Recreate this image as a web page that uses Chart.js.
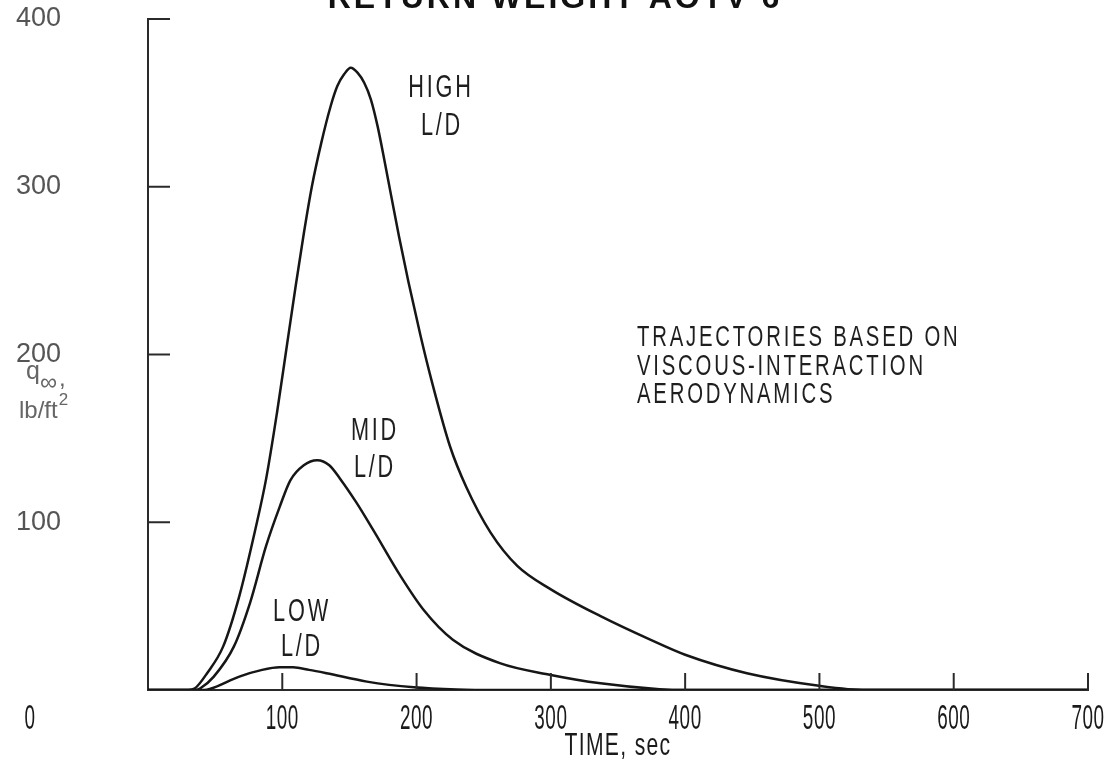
<!DOCTYPE html>
<html>
<head>
<meta charset="utf-8">
<script src="https://cdn.jsdelivr.net/npm/chart.js@4.4.1/dist/chart.umd.min.js"></script>
<style>
  html, body { margin: 0; padding: 0; background: #fff; }
</style>
</head>
<body>
<canvas id="myChart" width="1119" height="767"></canvas>
<script>
// values (time in sec, q in lb/ft2)
var highT = [0, 30, 35, 44, 56, 68, 80, 88, 96, 103, 110, 116, 122, 129, 136, 141, 146, 151, 156, 161, 166, 171, 176, 181, 187, 194, 203, 211, 225, 237, 255, 275, 300, 337, 374, 400, 446, 501, 535, 700];
var highQ = [0, 0, 1, 10, 26, 56, 96, 126, 165, 203, 241, 272, 300, 326, 348, 360, 367, 371, 368, 362, 352, 336, 316, 295, 270, 243, 211, 185, 145, 121, 94, 74, 60, 44, 30, 21, 10, 2.4, 0, 0];

var midT = [0, 36, 39, 49, 64, 76, 88, 98, 106, 116, 126, 135, 143, 155, 168, 188, 205, 227, 262, 300, 337, 381, 400, 700];
var midQ = [0, 0, 1, 8, 26, 52, 86, 109, 125, 134, 137, 134, 126, 112, 95, 68, 48, 30, 16, 9, 4, 0.5, 0, 0];

var lowT = [0, 42, 46, 68, 85, 98, 108, 120, 133, 163, 198, 230, 260, 700];
var lowQ = [0, 0, 0.6, 8, 12, 13.5, 13.5, 12, 10, 5, 1.6, 0.3, 0, 0];

var timeTicks = [0, 100, 200, 300, 400, 500, 600, 700];
var qTicks = [100, 200, 300, 400];

function pts(t, q) {
  return t.map(function (v, i) { return { x: v, y: q[i] }; });
}

// narrow lettering like the original figure
function condText(ctx, str, x, y, size, sx, spacing, color, align) {
  ctx.save();
  ctx.font = size + 'px "Liberation Sans"';
  ctx.letterSpacing = (spacing || 0) + 'px';
  ctx.fillStyle = color || '#1e1e1e';
  ctx.textAlign = align || 'center';
  ctx.textBaseline = 'middle';
  ctx.translate(x, y);
  ctx.scale(sx, 1);
  ctx.fillText(str, 0, 0);
  ctx.restore();
}

var extras = {
  id: 'extras',
  afterDraw: function (chart) {
    var ctx = chart.ctx;
    var xs = chart.scales.x, ys = chart.scales.y;
    var left = chart.chartArea.left, bottom = chart.chartArea.bottom;

    ctx.save();
    ctx.strokeStyle = '#2a2a2a';
    ctx.lineWidth = 2;
    // tick marks point inward
    qTicks.forEach(function (v) {
      var py = ys.getPixelForValue(v);
      ctx.beginPath(); ctx.moveTo(left, py); ctx.lineTo(left + 22, py); ctx.stroke();
    });
    timeTicks.forEach(function (v) {
      if (v === 0) return;
      var px = xs.getPixelForValue(v);
      ctx.beginPath(); ctx.moveTo(px, bottom); ctx.lineTo(px, bottom - 17); ctx.stroke();
    });
    ctx.restore();

    // x tick labels
    timeTicks.forEach(function (v) {
      var px = xs.getPixelForValue(v);
      if (v === 0) px = px - 118;
      condText(ctx, String(v), px, bottom + 29, 35, 0.54, 1, '#1a1a1a');
    });
    condText(ctx, 'TIME, sec', xs.getPixelForValue(350), bottom + 56, 32, 0.66, 2, '#1a1a1a');

    // y axis title
    ctx.save();
    ctx.fillStyle = '#666';
    ctx.textBaseline = 'alphabetic';
    ctx.font = '25px "Liberation Sans"';
    ctx.fillText('q', 26, 379);
    ctx.font = '24px "Liberation Sans"';
    ctx.fillText('\u221E', 40, 390);
    ctx.fillText(',', 59, 386);
    ctx.font = '24px "Liberation Sans"';
    ctx.fillText('lb/ft', 19, 418);
    var w = ctx.measureText('lb/ft').width;
    ctx.font = '17px "Liberation Sans"';
    ctx.fillText('2', 19 + w + 1, 405);
    ctx.restore();

    // curve labels
    condText(ctx, 'HIGH', 441, 88, 31, 0.7, 4);
    condText(ctx, 'L/D', 442, 126, 31, 0.7, 4);
    condText(ctx, 'MID', 375, 431, 31, 0.7, 4);
    condText(ctx, 'L/D', 375, 468, 31, 0.7, 4);
    condText(ctx, 'LOW', 302, 612, 31, 0.7, 4);
    condText(ctx, 'L/D', 302, 647, 31, 0.7, 4);

    condText(ctx, 'TRAJECTORIES BASED ON', 637, 338, 29, 0.7, 4, '#1e1e1e', 'left');
    condText(ctx, 'VISCOUS-INTERACTION', 637, 367, 29, 0.7, 4, '#1e1e1e', 'left');
    condText(ctx, 'AERODYNAMICS', 637, 395, 29, 0.7, 4, '#1e1e1e', 'left');

    // title, cut off at the top edge in the scan
    ctx.save();
    ctx.font = 'bold 32px "Liberation Sans"';
    ctx.fillStyle = '#111';
    ctx.textAlign = 'center';
    ctx.textBaseline = 'alphabetic';
    ctx.letterSpacing = '3px';
    ctx.fillText('RETURN WEIGHT AOTV 6', 555, 8);
    ctx.restore();
  }
};

var lineStyle = {
  borderColor: '#161616',
  borderWidth: 2.5,
  pointRadius: 0,
  fill: false,
  cubicInterpolationMode: 'monotone'
};

var ctx = document.getElementById('myChart').getContext('2d');
var myChart = new Chart(ctx, {
  type: 'line',
  data: {
    datasets: [
      Object.assign({ label: 'HIGH L/D', data: pts(highT, highQ) }, lineStyle),
      Object.assign({ label: 'MID L/D', data: pts(midT, midQ) }, lineStyle),
      Object.assign({ label: 'LOW L/D', data: pts(lowT, lowQ) }, lineStyle)
    ]
  },
  options: {
    responsive: false,
    animation: false,
    devicePixelRatio: 1,
    layout: { padding: { top: 19, right: 31, left: 0, bottom: 0 } },
    plugins: { legend: { display: false }, tooltip: { enabled: false } },
    scales: {
      x: {
        type: 'linear',
        min: 0,
        max: 700,
        afterFit: function (s) { s.height = 77; s.paddingLeft = 0; s.paddingRight = 0; },
        ticks: { display: false, stepSize: 100 },
        grid: { drawOnChartArea: false, drawTicks: false },
        border: { display: true, color: '#2a2a2a', width: 2 }
      },
      y: {
        min: 0,
        max: 400,
        // tick padding also pads top/bottom; undo that
        afterFit: function (s) { s.width = 148; s.paddingTop = 0; s.paddingBottom = 0; },
        ticks: {
          stepSize: 100,
          padding: 87,
          color: '#555',
          font: { family: 'Liberation Sans', size: 27 },
          callback: function (v) { return v === 0 ? '' : v; }
        },
        grid: { drawOnChartArea: false, drawTicks: false },
        border: { display: true, color: '#2a2a2a', width: 2 }
      }
    }
  },
  plugins: [extras]
});
</script>
</body>
</html>
